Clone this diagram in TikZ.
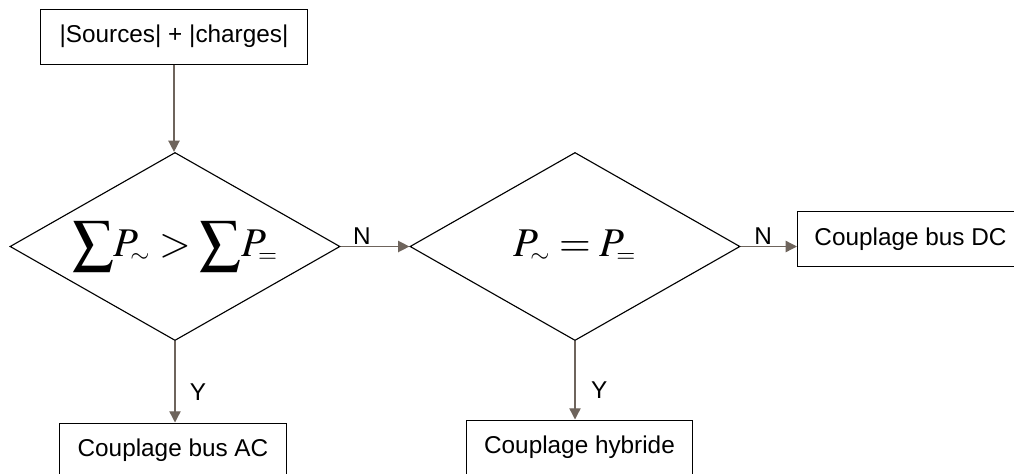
\documentclass[tikz,border=0pt]{standalone}
\usepackage{mathptmx}
\usepackage[no-math]{fontspec}
\setmainfont{Liberation Sans}
\usetikzlibrary{positioning,arrows.meta,shapes.geometric}
\definecolor{FlowBrown}{RGB}{110,100,92}
\newcommand{\pac}{P_{\mkern-2mu\scriptscriptstyle\sim}}
\newcommand{\pdc}{P_{\mkern-2mu\scriptscriptstyle=}}

\begin{document}
\begin{tikzpicture}[
x=0.025cm,y=-0.025cm,
box/.style={rectangle,draw=black,line width=0.7pt,minimum width=5.65cm,minimum height=1.375cm,inner sep=0pt,font=\fontsize{17.3}{20}\selectfont},
test/.style={diamond,draw=black,line width=0.8pt,minimum width=8.25cm,minimum height=4.7cm,inner sep=0pt,shape aspect=1.75,font=\fontsize{29}{32}\selectfont},
lbl/.style={font=\fontsize{17.3}{20}\selectfont,inner sep=1pt},
arrow/.style={-{Triangle[length=8pt,width=8pt]},line width=1pt,draw=FlowBrown}
]
\useasboundingbox (0,0) rectangle (1014,474);
\node[box,minimum width=6.65cm] (src) at (174,36.5) {|Sources| + |charges|};
\node[test] (sumtest) at (175,246.5) {$\displaystyle\sum\!\pac > \sum\!\pdc$};
\node[test] (eqtest) at (575,246.5) {$\pac = \pdc$};
\node[box] (dc) at (910.5,239) {Couplage bus DC};
\node[box] (ac) at (173,450.5) {Couplage bus AC};
\node[box] (hyb) at (579.5,447.5) {Couplage hybride};
\draw[arrow] (src.south) -- (src.south |- sumtest.north);
\draw[arrow] (sumtest.east) -- node[lbl,above,pos=0.31]{N} (eqtest.west);
\draw[arrow] (eqtest.east) -- node[lbl,above,pos=0.4]{N} (eqtest.east -| dc.west);
\draw[arrow] (sumtest.south) -- node[lbl,right=9pt,pos=0.63]{Y} (sumtest.south |- ac.north);
\draw[arrow] (eqtest.south) -- node[lbl,right=10pt,pos=0.63]{Y} (eqtest.south |- hyb.north);
\end{tikzpicture}
\end{document}
